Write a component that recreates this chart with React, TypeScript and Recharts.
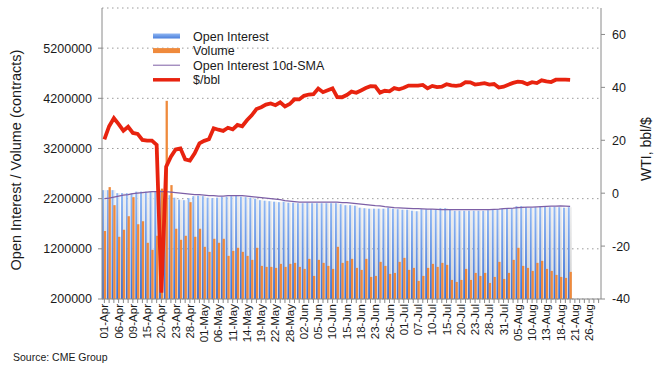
import { Bar, CartesianGrid, ComposedChart, Line, XAxis, YAxis } from 'recharts';

// CME trading days, Apr 1 – Aug 28 2020
const dates = [
  '01-Apr', '02-Apr', '03-Apr', '06-Apr', '07-Apr', '08-Apr', '09-Apr', '13-Apr', '14-Apr', '15-Apr',
  '16-Apr', '17-Apr', '20-Apr', '21-Apr', '22-Apr', '23-Apr', '24-Apr', '27-Apr', '28-Apr', '29-Apr',
  '30-Apr', '01-May', '04-May', '05-May', '06-May', '07-May', '08-May', '11-May', '12-May', '13-May',
  '14-May', '15-May', '18-May', '19-May', '20-May', '21-May', '22-May', '26-May', '27-May', '28-May',
  '29-May', '01-Jun', '02-Jun', '03-Jun', '04-Jun', '05-Jun', '08-Jun', '09-Jun', '10-Jun', '11-Jun',
  '12-Jun', '15-Jun', '16-Jun', '17-Jun', '18-Jun', '19-Jun', '22-Jun', '23-Jun', '24-Jun', '25-Jun',
  '26-Jun', '29-Jun', '30-Jun', '01-Jul', '02-Jul', '06-Jul', '07-Jul', '08-Jul', '09-Jul', '10-Jul',
  '13-Jul', '14-Jul', '15-Jul', '16-Jul', '17-Jul', '20-Jul', '21-Jul', '22-Jul', '23-Jul', '24-Jul',
  '27-Jul', '28-Jul', '29-Jul', '30-Jul', '31-Jul', '03-Aug', '04-Aug', '05-Aug', '06-Aug', '07-Aug',
  '10-Aug', '11-Aug', '12-Aug', '13-Aug', '14-Aug', '17-Aug', '18-Aug', '19-Aug', '20-Aug', '21-Aug',
  '24-Aug', '25-Aug', '26-Aug', '27-Aug', '28-Aug',
];

const openInterest = [
  2370000, 2370000, 2370000, 2310000, 2310000, 2310000, 2310000, 2340000, 2340000, 2340000,
  2340000, 2350000, 2370000, 2360000, 2270000, 2220000, 2180000, 2170000, 2210000, 2250000,
  2260000, 2250000, 2220000, 2210000, 2220000, 2240000, 2240000, 2250000, 2270000, 2240000,
  2230000, 2220000, 2200000, 2170000, 2160000, 2150000, 2140000, 2130000, 2140000, 2120000,
  2120000, 2110000, 2110000, 2120000, 2110000, 2110000, 2110000, 2110000, 2110000, 2110000,
  2090000, 2070000, 2070000, 2060000, 2020000, 2010000, 2000000, 2000000, 2000000, 2000000,
  2020000, 2000000, 1990000, 1980000, 1980000, 1960000, 1950000, 1990000, 1990000, 1990000,
  1980000, 2010000, 2010000, 1980000, 1960000, 1960000, 1960000, 1960000, 1960000, 1960000,
  1960000, 1970000, 1990000, 1990000, 2000000, 2000000, 2010000, 2050000, 2050000, 2030000,
  2020000, 2030000, 2050000, 2050000, 2030000, 2040000, 2030000, 2020000, 2030000,
];

const volume = [
  1555000, 2430000, 2070000, 1440000, 1580000, 1850000, 2230000, 1690000, 1750000, 1320000,
  1180000, 1460000, 2400000, 4150000, 2470000, 1600000, 1380000, 1460000, 2130000, 1440000,
  1600000, 1240000, 1140000, 1400000, 1320000, 1400000, 1060000, 1160000, 1220000, 1140000,
  1060000, 980000, 1220000, 860000, 840000, 840000, 820000, 900000, 840000, 900000,
  920000, 840000, 800000, 1000000, 660000, 980000, 920000, 860000, 800000, 1240000,
  920000, 960000, 1000000, 820000, 780000, 1000000, 640000, 660000, 940000, 860000,
  700000, 720000, 940000, 1020000, 780000, 820000, 560000, 660000, 820000, 900000,
  840000, 920000, 880000, 580000, 540000, 580000, 800000, 580000, 720000, 660000,
  720000, 520000, 640000, 940000, 600000, 720000, 980000, 1220000, 860000, 820000,
  760000, 920000, 960000, 800000, 760000, 680000, 640000, 620000, 740000,
];

const oiSma = [
  2200000, 2210000, 2230000, 2250000, 2270000, 2280000, 2300000, 2310000, 2320000, 2330000,
  2340000, 2340000, 2340000, 2340000, 2330000, 2320000, 2310000, 2300000, 2290000, 2280000,
  2280000, 2270000, 2260000, 2260000, 2250000, 2250000, 2260000, 2260000, 2260000, 2260000,
  2250000, 2240000, 2230000, 2220000, 2210000, 2200000, 2190000, 2180000, 2160000, 2150000,
  2140000, 2130000, 2130000, 2130000, 2130000, 2130000, 2130000, 2130000, 2130000, 2130000,
  2120000, 2120000, 2110000, 2100000, 2090000, 2080000, 2070000, 2060000, 2055000, 2040000,
  2030000, 2020000, 2015000, 2010000, 2005000, 2000000, 2000000, 1995000, 1990000, 1990000,
  1985000, 1980000, 1980000, 1980000, 1980000, 1980000, 1980000, 1980000, 1980000, 1980000,
  1980000, 1980000, 1985000, 1990000, 2000000, 2005000, 2010000, 2020000, 2025000, 2030000,
  2030000, 2035000, 2040000, 2045000, 2050000, 2050000, 2055000, 2050000, 2045000,
];

const wti = [
  20.31, 25.32, 28.34, 26.08, 23.63, 25.09, 22.76, 22.41, 20.11, 19.87,
  19.87, 18.27, -37.63, 10.01, 13.78, 16.5, 16.94, 12.78, 12.34, 15.06,
  18.84, 19.78, 20.39, 24.56, 23.99, 23.55, 24.74, 24.14, 25.78, 25.29,
  27.56, 29.43, 31.82, 32.5, 33.49, 33.92, 33.25, 34.35, 32.81, 33.71,
  35.49, 35.44, 36.81, 37.29, 37.41, 39.55, 38.19, 38.94, 39.6, 36.34,
  36.26, 37.12, 38.38, 37.96, 38.84, 39.75, 40.46, 40.37, 38.01, 38.72,
  38.49, 39.7, 39.27, 39.82, 40.65, 40.63, 40.62, 40.9, 39.62, 40.55,
  40.1, 40.29, 41.2, 40.75, 40.59, 40.81, 41.96, 41.9, 41.07, 41.29,
  41.6, 41.04, 41.27, 39.92, 40.27, 41.01, 41.7, 42.19, 41.95, 41.22,
  41.94, 41.61, 42.67, 42.24, 42.01, 42.89, 42.89, 42.93, 42.82,
];

const leftTicks = [200000, 1200000, 2200000, 3200000, 4200000, 5200000];
const rightTicks = [-40, -20, 0, 20, 40, 60];

const legendItems = ['Open Interest', 'Volume', 'Open Interest 10d-SMA', '$/bbl'];

const data = dates.map((date, i) => ({
  date,
  oi: openInterest[i],
  volume: volume[i],
  sma: oiSma[i],
  wti: wti[i],
}));

const FONT = '"Liberation Sans", Arial, Helvetica, sans-serif';
const TEXT = '#1a1a1a';
const AXIS = '#8a8a8a';
const ORANGE = '#ef8a3c';
const RED = '#e8230f';
const PURPLE = '#7d5fa6';

function OiShape(props: any) {
  const { x, y, width, height } = props;
  if (!height || height <= 0) return null;
  const blueW = width;
  return (
    <g>
      <rect x={x + blueW} y={y} width={width * 2 - blueW} height={height} fill="url(#oiGrey)" />
      <rect x={x} y={y} width={blueW} height={height} fill="url(#oiBlue)" />
    </g>
  );
}

function VolumeShape(props: any) {
  const { x, y, width, height } = props;
  if (!height || height <= 0) return null;
  return <rect x={x - 0.2} y={y} width={width + 0.3} height={height} fill={ORANGE} />;
}

function DateTick(props: any) {
  const { x, y, payload, index } = props;
  if (index % 3 !== 0) return null;
  const tx = x + 4;
  const ty = y - 1;
  return (
    <text x={tx} y={ty} transform={`rotate(-90 ${tx} ${ty})`} textAnchor="end" fontSize={11.5} fill={TEXT} fontFamily={FONT}>
      {payload.value}
    </text>
  );
}

function ChartLegend() {
  return (
    <svg width={220} height={62} style={{ position: 'absolute', left: 150, top: 29 }}>
      <defs>
        <linearGradient id="legBlue" x1="0" y1="0" x2="0" y2="1">
          <stop offset="0%" stopColor="#8fb6f2" />
          <stop offset="100%" stopColor="#4a7fdb" />
        </linearGradient>
      </defs>
      {legendItems.map((label, i) => {
        const cy = 7 + i * 14.6;
        let swatch;
        if (i === 0) swatch = <rect x={3} y={cy - 2.5} width={27} height={5} fill="url(#legBlue)" />;
        else if (i === 1) swatch = <rect x={3} y={cy - 2.5} width={27} height={5} fill={ORANGE} />;
        else if (i === 2) swatch = <line x1={3} x2={30} y1={cy} y2={cy} stroke={PURPLE} strokeWidth={1} />;
        else swatch = <line x1={3} x2={30} y1={cy} y2={cy} stroke={RED} strokeWidth={3.5} />;
        return (
          <g key={label}>
            {swatch}
            <text x={43} y={cy + 4.5} fontSize={12.5} fill={TEXT} fontFamily={FONT}>
              {label}
            </text>
          </g>
        );
      })}
    </svg>
  );
}

export default function App() {
  return (
    <div style={{ position: 'absolute', left: 0, top: 0, width: 661, height: 376, background: '#fff', fontFamily: FONT }}>
      <ComposedChart
        width={661}
        height={376}
        data={data}
        margin={{ top: 8, right: 0, bottom: 0, left: 0 }}
        barCategoryGap={0}
        barGap={0}
      >
        <defs>
          <linearGradient id="oiBlue" x1="0" y1="0" x2="0" y2="1">
            <stop offset="0%" stopColor="#92b9f4" />
            <stop offset="100%" stopColor="#3b70d4" />
          </linearGradient>
          <linearGradient id="oiGrey" x1="0" y1="0" x2="0" y2="1">
            <stop offset="0%" stopColor="#eeeeee" />
            <stop offset="100%" stopColor="#cccccc" />
          </linearGradient>
        </defs>
        <CartesianGrid vertical={false} stroke="#9a9a9a" strokeDasharray="1.5 3.5" />
        <XAxis
          dataKey="date"
          interval={0}
          height={77}
          tick={<DateTick />}
          tickSize={4}
          axisLine={{ stroke: AXIS }}
          tickLine={{ stroke: AXIS }}
        />
        <YAxis
          domain={[200000, 6000000]}
          ticks={leftTicks}
          width={102}
          tickSize={4}
          tickMargin={6}
          tickFormatter={(v: number) => String(v)}
          tick={{ fill: TEXT, fontSize: 12.5, fontFamily: FONT }}
          axisLine={{ stroke: AXIS }}
          tickLine={{ stroke: AXIS }}
          allowDataOverflow
        />
        <YAxis
          yAxisId="right"
          orientation="right"
          domain={[-40, 70]}
          ticks={rightTicks}
          width={60}
          tickSize={4}
          tickMargin={7}
          tick={{ fill: TEXT, fontSize: 12.5, fontFamily: FONT }}
          axisLine={{ stroke: AXIS }}
          tickLine={{ stroke: AXIS }}
          allowDataOverflow
        />
        <Bar dataKey="oi" shape={<OiShape />} isAnimationActive={false} />
        <Bar dataKey="volume" shape={<VolumeShape />} isAnimationActive={false} />
        <Line dataKey="sma" stroke={PURPLE} strokeWidth={1.2} dot={false} activeDot={false} isAnimationActive={false} />
        <Line
          yAxisId="right"
          dataKey="wti"
          stroke={RED}
          strokeWidth={3.8}
          strokeLinejoin="miter"
          dot={false}
          activeDot={false}
          isAnimationActive={false}
        />
      </ComposedChart>
      <ChartLegend />
      <svg width={661} height={376} style={{ position: 'absolute', left: 0, top: 0, pointerEvents: 'none' }}>
        <text x={21} y={160} transform="rotate(-90 21 160)" textAnchor="middle" fontSize={14.5} fill={TEXT} fontFamily={FONT}>
          Open Interest / Volume (contracts)
        </text>
        <text x={651} y={149} transform="rotate(-90 651 149)" textAnchor="middle" fontSize={14} fill={TEXT} fontFamily={FONT}>
          WTI, bbl/$
        </text>
        <text x={13} y={361} fontSize={10.5} fill={TEXT} fontFamily={FONT}>
          Source: CME Group
        </text>
      </svg>
    </div>
  );
}
